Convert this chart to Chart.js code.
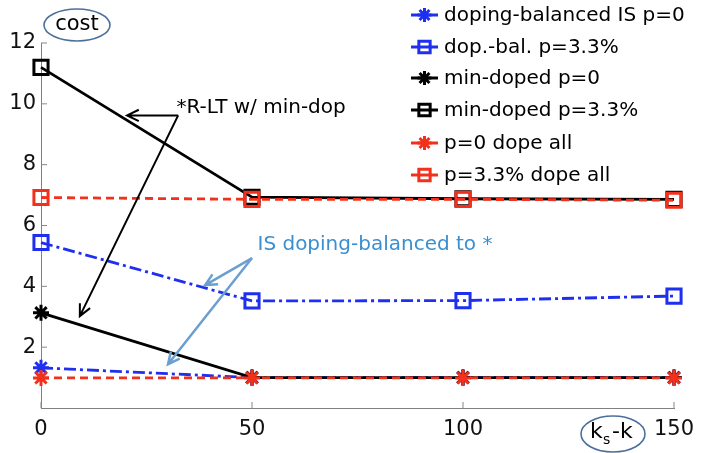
<!DOCTYPE html>
<html>
<head>
<meta charset="utf-8">
<title>cost vs ks-k</title>
<script src="https://cdn.jsdelivr.net/npm/chart.js@4.4.0/dist/chart.umd.min.js"></script>
<style>
  html, body { margin: 0; padding: 0; background: #fff; }
  #wrap { width: 711px; height: 453px; position: relative; }
</style>
</head>
<body>
<div id="wrap"><canvas id="c" width="711" height="453"></canvas></div>
<script>
// data
var ksMinusK = [0, 50, 100, 150];
var xTicks = [0, 50, 100, 150];
var yTicks = [2, 4, 6, 8, 10, 12];

var dopBalP0 = [1.32, 1.0, 1.0, 1.0];
var dopBalP33 = [5.44, 3.52, 3.53, 3.68];
var minDopedP0 = [3.13, 1.0, 1.0, 1.0];
var minDopedP33 = [11.2, 6.93, 6.88, 6.86];
var dopeAllP0 = [0.99, 0.99, 0.99, 0.99];
var dopeAllP33 = [6.92, 6.86, 6.86, 6.83];

var seriesNames = [
  'doping-balanced IS p=0',
  'dop.-bal. p=3.3%',
  'min-doped p=0',
  'min-doped p=3.3%',
  'p=0 dope all',
  'p=3.3% dope all'
];

var FONT = '"DejaVu Sans", sans-serif';
var BLUE = '#1f2ff0';
var RED = '#f2301c';
var BLACK = '#000000';
var DASHDOT = [12, 4, 3, 4];
var DASHED = [8, 5];

function pts(vals) {
  return vals.map(function(v, i) { return { x: ksMinusK[i], y: v }; });
}

function series(name, vals, color, style, dash, order) {
  return {
    label: name,
    data: pts(vals),
    borderColor: color,
    backgroundColor: 'transparent',
    pointBorderColor: color,
    pointBackgroundColor: 'transparent',
    pointStyle: style,
    pointRadius: style === 'rect' ? 10 : 8,
    pointBorderWidth: 3,
    borderWidth: 2.8,
    borderDash: dash,
    tension: 0,
    fill: false,
    clip: false,
    order: order
  };
}

// custom legend: short line + marker, like the original
var lineLegend = {
  id: 'lineLegend',
  afterDraw: function(chart) {
    var ctx = chart.ctx;
    var x0 = 411, x1 = 438, tx = 444;
    var ys = [15, 47, 78, 110, 143, 175];
    ctx.save();
    chart.data.datasets.forEach(function(ds, i) {
      var y = ys[i];
      ctx.strokeStyle = ds.borderColor;
      ctx.fillStyle = 'transparent';
      ctx.lineWidth = 3;
      ctx.setLineDash([]);
      ctx.beginPath();
      ctx.moveTo(x0, y);
      ctx.lineTo(x1, y);
      ctx.stroke();
      Chart.helpers.drawPoint(ctx, {
        pointStyle: ds.pointStyle,
        radius: ds.pointStyle === 'rect' ? 8 : 7,
        rotation: 0,
        borderWidth: 3
      }, (x0 + x1) / 2, y);
      ctx.fillStyle = '#000';
      ctx.font = '20px ' + FONT;
      ctx.textBaseline = 'middle';
      ctx.textAlign = 'left';
      ctx.fillText(ds.label, tx, y + 1);
    });
    ctx.restore();
  }
};

function arrow(ctx, fx, fy, tx, ty, head) {
  var a = Math.atan2(ty - fy, tx - fx);
  ctx.beginPath();
  ctx.moveTo(fx, fy);
  ctx.lineTo(tx, ty);
  ctx.moveTo(tx - head * Math.cos(a - 0.45), ty - head * Math.sin(a - 0.45));
  ctx.lineTo(tx, ty);
  ctx.lineTo(tx - head * Math.cos(a + 0.45), ty - head * Math.sin(a + 0.45));
  ctx.stroke();
}

// annotations, axis labels and inward tick marks
var notes = {
  id: 'notes',
  beforeDatasetsDraw: function(chart) {
    var ctx = chart.ctx;
    var xs = chart.scales.x, ys = chart.scales.y;
    var area = chart.chartArea;
    ctx.save();
    // tick marks pointing inward
    ctx.strokeStyle = '#888';
    ctx.lineWidth = 1;
    ctx.beginPath();
    yTicks.forEach(function(t) {
      ctx.moveTo(area.left, ys.getPixelForValue(t));
      ctx.lineTo(area.left + 6, ys.getPixelForValue(t));
    });
    xTicks.forEach(function(t) {
      ctx.moveTo(xs.getPixelForValue(t), area.bottom);
      ctx.lineTo(xs.getPixelForValue(t), area.bottom - 6);
    });
    ctx.stroke();
    ctx.restore();
  },
  afterDatasetsDraw: function(chart) {
    var ctx = chart.ctx;
    var xs = chart.scales.x, ys = chart.scales.y;
    var px = function(v) { return xs.getPixelForValue(v); };
    var py = function(v) { return ys.getPixelForValue(v); };
    ctx.save();

    // black annotation
    ctx.strokeStyle = '#000';
    ctx.lineWidth = 2;
    arrow(ctx, px(32.5), py(9.62), px(20.4), py(9.62), 13);
    arrow(ctx, px(32.5), py(9.62), px(9.2), py(3.02), 13);
    ctx.fillStyle = '#000';
    ctx.font = '20px ' + FONT;
    ctx.textBaseline = 'alphabetic';
    ctx.fillText('*R-LT w/ min-dop', px(32.1), py(9.7));

    // blue annotation
    ctx.strokeStyle = '#6b9fd2';
    ctx.lineWidth = 2.5;
    arrow(ctx, px(50), py(4.93), px(38.9), py(4.04), 13);
    arrow(ctx, px(50), py(4.93), px(30.1), py(1.44), 13);
    ctx.fillStyle = '#3a8fd0';
    ctx.fillText('IS doping-balanced to *', px(51.3), py(5.2));

    // "cost" ellipse
    ctx.strokeStyle = '#4d6f9e';
    ctx.lineWidth = 1.6;
    ctx.beginPath();
    ctx.ellipse(77, 25, 33, 16, 0, 0, Math.PI * 2);
    ctx.stroke();
    ctx.fillStyle = '#000';
    ctx.font = '21px ' + FONT;
    ctx.textAlign = 'center';
    ctx.textBaseline = 'middle';
    ctx.fillText('cost', 77, 25);

    // "ks-k" ellipse
    ctx.beginPath();
    ctx.ellipse(613, 434, 32, 18, 0, 0, Math.PI * 2);
    ctx.stroke();
    ctx.textAlign = 'left';
    ctx.font = '22px ' + FONT;
    ctx.fillText('k', 590, 432);
    ctx.font = '14px ' + FONT;
    ctx.fillText('s', 603, 440);
    ctx.font = '22px ' + FONT;
    ctx.fillText('-k', 612, 432);

    ctx.restore();
  }
};

var datasets = [
  series(seriesNames[0], dopBalP0, BLUE, 'star', DASHDOT, 2),
  series(seriesNames[1], dopBalP33, BLUE, 'rect', DASHDOT, 2),
  series(seriesNames[2], minDopedP0, BLACK, 'star', [], 1),
  series(seriesNames[3], minDopedP33, BLACK, 'rect', [], 1),
  series(seriesNames[4], dopeAllP0, RED, 'star', DASHED, 0),
  series(seriesNames[5], dopeAllP33, RED, 'rect', DASHED, 0)
];

new Chart(document.getElementById('c'), {
  type: 'line',
  data: { datasets: datasets },
  options: {
    responsive: false,
    animation: false,
    events: [],
    layout: { padding: { left: 0, right: 37, top: 43, bottom: 0 } },
    plugins: {
      legend: { display: false },
      tooltip: { enabled: false }
    },
    scales: {
      x: {
        type: 'linear',
        min: 0,
        max: 150,
        afterBuildTicks: function(s) { s.ticks = xTicks.map(function(v) { return { value: v }; }); },
        afterFit: function(s) { s.height = 45; },
        grid: { display: false, drawTicks: false },
        border: { display: true, color: '#808080', width: 1 },
        ticks: { color: '#111', padding: 9, font: { size: 21, family: FONT } }
      },
      y: {
        type: 'linear',
        min: 0,
        max: 12,
        afterBuildTicks: function(s) { s.ticks = yTicks.map(function(v) { return { value: v }; }); },
        afterFit: function(s) { s.width = 41; },
        grid: { display: false, drawTicks: false },
        border: { display: true, color: '#808080', width: 1 },
        ticks: { color: '#111', padding: 5, font: { size: 21, family: FONT } }
      }
    }
  },
  plugins: [lineLegend, notes]
});
</script>
</body>
</html>
